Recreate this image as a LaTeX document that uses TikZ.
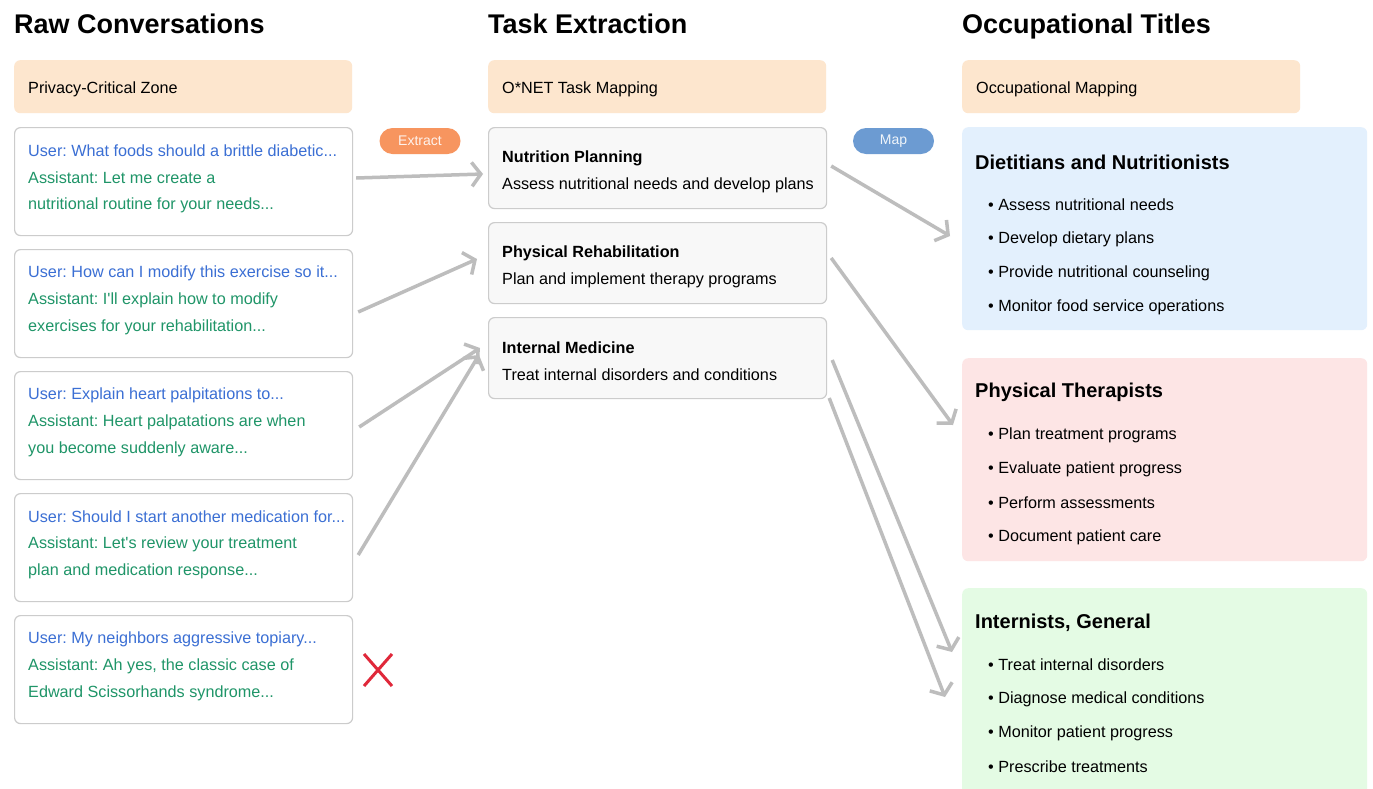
\documentclass[tikz,border=0pt]{standalone}
\usepackage{fontspec}
\setmainfont{Liberation Sans}[Ligatures=TeXOff]
\usetikzlibrary{arrows.meta,calc}
\frenchspacing
\definecolor{peach}{HTML}{FDE6CE}
\definecolor{pillor}{HTML}{F7955F}
\definecolor{pillbl}{HTML}{6C9BD2}
\definecolor{bluebg}{HTML}{E3F0FD}
\definecolor{pinkbg}{HTML}{FDE5E5}
\definecolor{greenbg}{HTML}{E4FBE4}
\definecolor{usercol}{HTML}{3B6FD4}
\definecolor{asstcol}{HTML}{1F9568}
\definecolor{arrcol}{HTML}{BDBDBD}
\definecolor{bordcol}{HTML}{CCCCCC}
\definecolor{midbg}{HTML}{F8F8F8}
\definecolor{redx}{HTML}{E0283A}
\tikzset{
  boxbase/.style={rectangle,rounded corners=6pt,anchor=north west,inner sep=0pt},
  hdrbox/.style={boxbase,fill=peach,minimum width=338pt,minimum height=53pt},
  convbox/.style={boxbase,draw=bordcol,line width=1.2pt,fill=white,minimum width=338pt,minimum height=108pt},
  taskbox/.style={boxbase,draw=bordcol,line width=1.2pt,fill=midbg,minimum width=338pt,minimum height=81pt},
  occbox/.style={boxbase,minimum width=405pt,minimum height=203pt},
  ttl/.style={anchor=base west,inner sep=0pt,font=\fontsize{27}{31}\selectfont\bfseries},
  txt/.style={anchor=west,inner sep=0pt,yshift=-2pt,font=\fontsize{16.2}{19}\selectfont},
  usr/.style={txt,text=usercol},
  asst/.style={txt,text=asstcol},
  bold/.style={txt,font=\fontsize{16.2}{19}\selectfont\bfseries},
  occt/.style={anchor=west,inner sep=0pt,yshift=-1.5pt,font=\fontsize{20}{24}\selectfont\bfseries},
  pill/.style={rectangle,rounded corners=13pt,minimum width=81pt,minimum height=26pt,inner sep=0pt,font=\fontsize{14}{16}\selectfont},
  conn/.style={draw=arrcol,line width=3.5pt,-{Straight Barb[length=9pt,width=24pt,line width=3.5pt]}},
}
\begin{document}
\begin{tikzpicture}[x=1pt,y=-1pt]
\useasboundingbox[fill=white] (0,0) rectangle (1373,788);

% titles
\node[ttl] (t1) at (14,33) {Raw Conversations};
\node[ttl] (t2) at (488,33) {Task Extraction};
\node[ttl] (t3) at (962,33) {Occupational Titles};

% header boxes
\node[hdrbox] (h1) at (14,60) {};
\node[txt] (h1t) at (28,87) {Privacy-Critical Zone};
\node[hdrbox] (h2) at (488,60) {};
\node[txt] (h2t) at (502,87) {O*NET Task Mapping};
\node[hdrbox] (h3) at (962,60) {};
\node[txt] (h3t) at (976,87) {Occupational Mapping};

% conversation boxes
\node[convbox] (c1) at (14,127) {};
\node[usr]  (c1a) at (28,149) {User: What foods should a brittle diabetic...};
\node[asst] (c1b) at (28,176) {Assistant: Let me create a};
\node[asst] (c1c) at (28,203) {nutritional routine for your needs...};

\node[convbox] (c2) at (14,249) {};
\node[usr]  (c2a) at (28,271) {User: How can I modify this exercise so it...};
\node[asst] (c2b) at (28,298) {Assistant: I'll explain how to modify};
\node[asst] (c2c) at (28,325) {exercises for your rehabilitation...};

\node[convbox] (c3) at (14,371) {};
\node[usr]  (c3a) at (28,393) {User: Explain heart palpitations to...};
\node[asst] (c3b) at (28,420) {Assistant: Heart palpatations are when};
\node[asst] (c3c) at (28,447) {you become suddenly aware...};

\node[convbox] (c4) at (14,493) {};
\node[usr]  (c4a) at (28,515) {User: Should I start another medication for...};
\node[asst] (c4b) at (28,542) {Assistant: Let's review your treatment};
\node[asst] (c4c) at (28,569) {plan and medication response...};

\node[convbox] (c5) at (14,615) {};
\node[usr]  (c5a) at (28,637) {User: My neighbors aggressive topiary...};
\node[asst] (c5b) at (28,664) {Assistant: Ah yes, the classic case of};
\node[asst] (c5c) at (28,691) {Edward Scissorhands syndrome...};

% red cross
\coordinate (xa) at (364,654);
\coordinate (xb) at (392,686);
\coordinate (xc) at (392,654);
\coordinate (xd) at (364,686);
\draw[redx,line width=3pt] (xa) -- (xb) (xc) -- (xd);

% pills
\node[pill,fill=pillor,text=white!88!pillor] (pe) at (420,141) {Extract};
\node[pill,fill=pillbl,text=white!90!pillbl] (pm) at (893.5,141) {Map};

% task boxes
\node[taskbox] (m1) at (488,127) {};
\node[bold] (m1a) at (502,156) {Nutrition Planning};
\node[txt]  (m1b) at (502,183) {Assess nutritional needs and develop plans};

\node[taskbox] (m2) at (488,222) {};
\node[bold] (m2a) at (502,251) {Physical Rehabilitation};
\node[txt]  (m2b) at (502,278) {Plan and implement therapy programs};

\node[taskbox] (m3) at (488,317) {};
\node[bold] (m3a) at (502,346) {Internal Medicine};
\node[txt]  (m3b) at (502,373) {Treat internal disorders and conditions};

% occupation boxes
\node[occbox,fill=bluebg] (r1) at (962,127) {};
\node[occt] (r1t) at (975,161) {Dietitians and Nutritionists};
\node[txt] (r1a) at (988,203) {\textbullet\ Assess nutritional needs};
\node[txt] (r1b) at (988,237) {\textbullet\ Develop dietary plans};
\node[txt] (r1c) at (988,271) {\textbullet\ Provide nutritional counseling};
\node[txt] (r1d) at (988,305) {\textbullet\ Monitor food service operations};

\node[occbox,fill=pinkbg] (r2) at (962,358) {};
\node[occt] (r2t) at (975,391) {Physical Therapists};
\node[txt] (r2a) at (988,433) {\textbullet\ Plan treatment programs};
\node[txt] (r2b) at (988,467) {\textbullet\ Evaluate patient progress};
\node[txt] (r2c) at (988,501) {\textbullet\ Perform assessments};
\node[txt] (r2d) at (988,535) {\textbullet\ Document patient care};

\node[occbox,fill=greenbg,minimum height=220pt] (r3) at (962,588) {};
\node[occt] (r3t) at (975,621) {Internists, General};
\node[txt] (r3a) at (988,663) {\textbullet\ Treat internal disorders};
\node[txt] (r3b) at (988,697) {\textbullet\ Diagnose medical conditions};
\node[txt] (r3c) at (988,731) {\textbullet\ Monitor patient progress};
\node[txt] (r3d) at (988,765) {\textbullet\ Prescribe treatments};

% connectors: conversations -> tasks
\draw[conn] ($(c1.north east)+(3,51)$) -- ($(m1.north west)+(-5,47)$);
\draw[conn] ($(c2.north east)+(5,63)$) -- ($(m2.north west)+(-11,37)$);
\draw[conn] ($(c3.north east)+(6,56)$) -- ($(m3.north west)+(-8,31)$);
\draw[conn] ($(c4.north east)+(5,62)$) -- ($(m3.north west)+(-9,38)$);

% connectors: tasks -> occupations
\draw[conn] ($(m1.north east)+(4,39)$) -- ($(r1.north west)+(-12,109)$);
\draw[conn] ($(m2.north east)+(4,36)$) -- ($(r2.north west)+(-9,67)$);
\draw[conn] ($(m3.north east)+(5,43)$) -- ($(r3.north west)+(-10,64)$);
\draw[conn] ($(m3.north east)+(2,81)$) -- ($(r3.north west)+(-17,109)$);
\end{tikzpicture}
\end{document}
